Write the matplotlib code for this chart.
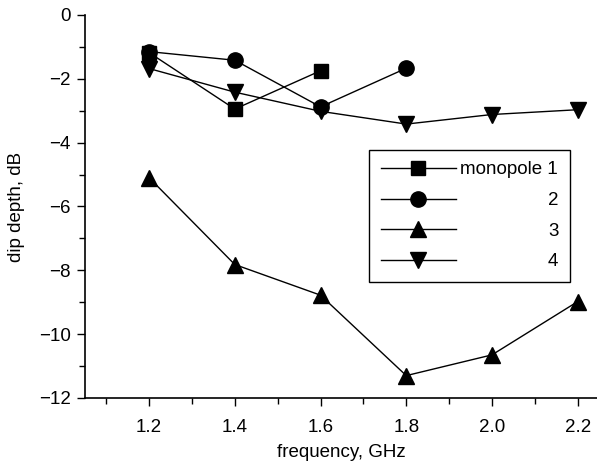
import matplotlib
matplotlib.use("Agg")
import matplotlib.pyplot as plt
from matplotlib.ticker import MultipleLocator

plt.rcParams["font.family"] = ["Liberation Sans", "DejaVu Sans"]

freq = [1.2, 1.4, 1.6, 1.8, 2.0, 2.2]

mono1 = [-1.18, -2.95, -1.75]
mono2 = [-1.15, -1.42, -2.88, -1.67]
mono3 = [-5.1, -7.82, -8.78, -11.3, -10.65, -8.98]
mono4 = [-1.68, -2.42, -3.02, -3.42, -3.12, -2.97]

labels = ["monopole 1", "2", "3", "4"]

fig = plt.figure(figsize=(5.97, 4.66), dpi=100)
ax = fig.add_axes([0.142, 0.146, 0.858, 0.822])

ax.plot(freq[:len(mono1)], mono1, color="black", lw=1, marker="s", ms=10, label=labels[0])
ax.plot(freq[:len(mono2)], mono2, color="black", lw=1, marker="o", ms=11, label=labels[1])
ax.plot(freq, mono3, color="black", lw=1, marker="^", ms=12, label=labels[2])
ax.plot(freq, mono4, color="black", lw=1, marker="v", ms=12, label=labels[3])

ax.set_xlim(1.05, 2.245)
ax.set_ylim(-12, 0)
ax.xaxis.set_major_locator(MultipleLocator(0.2))
ax.xaxis.set_minor_locator(MultipleLocator(0.1))
ax.yaxis.set_major_locator(MultipleLocator(2))
ax.yaxis.set_minor_locator(MultipleLocator(1))
ax.xaxis.set_major_formatter(plt.FormatStrFormatter("%.1f"))

for s in ["top", "right"]:
    ax.spines[s].set_visible(False)
for s in ["left", "bottom"]:
    ax.spines[s].set_linewidth(1.2)

ax.tick_params(which="major", direction="out", length=6, width=1, labelsize=13.5)
ax.tick_params(which="minor", direction="out", length=4, width=1)
ax.tick_params(axis="x", pad=9)
ax.tick_params(axis="y", pad=4)

ax.set_xlabel("frequency, GHz", fontsize=13.5, labelpad=6)
ax.set_ylabel("dip depth, dB", fontsize=13.5, labelpad=10)

leg = ax.legend(loc="upper right", bbox_to_anchor=(0.947, 0.648), borderaxespad=0,
                fontsize=13.5, handlelength=4.0, handletextpad=0.25,
                labelspacing=0.72, borderpad=0.62, fancybox=False,
                edgecolor="black", framealpha=1)
leg.get_frame().set_linewidth(1)

# right-align the legend labels
fig.canvas.draw()
renderer = fig.canvas.get_renderer()
widths = [t.get_window_extent(renderer).width for t in leg.get_texts()]
for t, w in zip(leg.get_texts(), widths):
    t.set_position((max(widths) - w, 0))

fig.savefig("out.png", dpi=100)
